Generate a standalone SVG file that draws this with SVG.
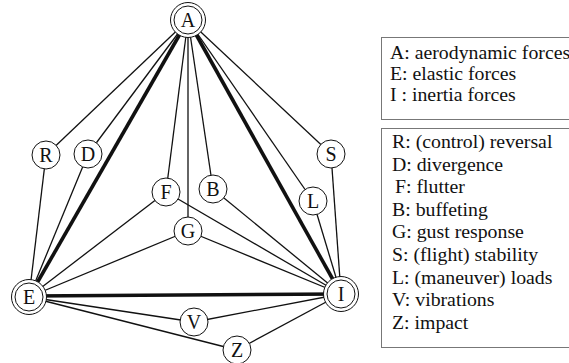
<svg xmlns="http://www.w3.org/2000/svg" width="569" height="363" viewBox="0 0 569 363">
<style>
.e{stroke:#111;stroke-width:1.3;fill:none}
.t{stroke:#111;stroke-width:3.6;fill:none}
.n{fill:#fff;stroke:#111;stroke-width:1}
.box{fill:none;stroke:#777;stroke-width:1}
</style>
<rect width="569" height="363" fill="#fff"/>
<g id="connectors">
<line class="e" x1="188" y1="20" x2="46" y2="155"/>
<line class="e" x1="46" y1="155" x2="29" y2="297"/>
<line class="e" x1="188" y1="20" x2="88" y2="154"/>
<line class="e" x1="88" y1="154" x2="29" y2="297"/>
<line class="t" x1="188" y1="20" x2="29" y2="297"/>
<line class="e" x1="188" y1="20" x2="166" y2="192"/>
<line class="e" x1="166" y1="192" x2="29" y2="297"/>
<line class="e" x1="166" y1="192" x2="341" y2="294"/>
<line class="e" x1="188" y1="20" x2="188" y2="231"/>
<line class="e" x1="188" y1="231" x2="29" y2="297"/>
<line class="e" x1="188" y1="231" x2="341" y2="294"/>
<line class="e" x1="188" y1="20" x2="213" y2="189"/>
<line class="e" x1="213" y1="189" x2="341" y2="294"/>
<line class="e" x1="188" y1="20" x2="313" y2="201"/>
<line class="e" x1="313" y1="201" x2="341" y2="294"/>
<line class="e" x1="188" y1="20" x2="331" y2="154"/>
<line class="e" x1="331" y1="154" x2="341" y2="294"/>
<line class="t" x1="188" y1="20" x2="341" y2="294"/>
<line class="t" x1="29" y1="296" x2="341" y2="294"/>
<line class="e" x1="29" y1="297" x2="194" y2="322"/>
<line class="e" x1="194" y1="322" x2="341" y2="294"/>
<line class="e" x1="29" y1="297" x2="237" y2="350"/>
<line class="e" x1="237" y1="350" x2="341" y2="294"/>
</g>
<g font-family="Liberation Serif, DejaVu Serif, serif" font-size="20" fill="#111" text-anchor="middle">
<g id="node-A"><circle class="n" cx="188" cy="20" r="17.5"/><circle class="n" cx="188" cy="20" r="14"/><text x="188" y="27">A</text></g>
<g id="node-E"><circle class="n" cx="29" cy="297" r="17.5"/><circle class="n" cx="29" cy="297" r="14"/><text x="29" y="304">E</text></g>
<g id="node-I"><circle class="n" cx="341" cy="294" r="17.5"/><circle class="n" cx="341" cy="294" r="14"/><text x="341" y="301">I</text></g>
<g id="node-R"><circle class="n" cx="46" cy="155" r="14"/><text x="46" y="162">R</text></g>
<g id="node-D"><circle class="n" cx="88" cy="154" r="14"/><text x="88" y="161">D</text></g>
<g id="node-S"><circle class="n" cx="331" cy="154" r="14"/><text x="331" y="161">S</text></g>
<g id="node-F"><circle class="n" cx="166" cy="192" r="14"/><text x="166" y="199">F</text></g>
<g id="node-B"><circle class="n" cx="213" cy="189" r="14"/><text x="213" y="196">B</text></g>
<g id="node-L"><circle class="n" cx="313" cy="201" r="14"/><text x="313" y="208">L</text></g>
<g id="node-G"><circle class="n" cx="188" cy="231" r="14"/><text x="188" y="238">G</text></g>
<g id="node-V"><circle class="n" cx="194" cy="322" r="14"/><text x="194" y="329">V</text></g>
<g id="node-Z"><circle class="n" cx="237" cy="350" r="14"/><text x="237" y="357">Z</text></g>
</g>
<g id="legend" font-family="Liberation Serif, DejaVu Serif, serif" font-size="19.8" fill="#111">
<rect class="box" x="381.5" y="37.5" width="200" height="82"/>
<text x="390" y="58.5">A: aerodynamic forces</text>
<text x="390" y="79.5">E: elastic forces</text>
<text x="390" y="100.5">I : inertia forces</text>
<rect class="box" x="381.5" y="128.5" width="200" height="219"/>
<text x="392" y="148">R: (control) reversal</text>
<text x="392" y="170.6">D: divergence</text>
<text x="395" y="193.2">F: flutter</text>
<text x="392" y="215.8">B: buffeting</text>
<text x="392" y="238.4">G: gust response</text>
<text x="392" y="261">S: (flight) stability</text>
<text x="392" y="283.6">L: (maneuver) loads</text>
<text x="392" y="306.2">V: vibrations</text>
<text x="392" y="328.8">Z: impact</text>
</g>
</svg>
